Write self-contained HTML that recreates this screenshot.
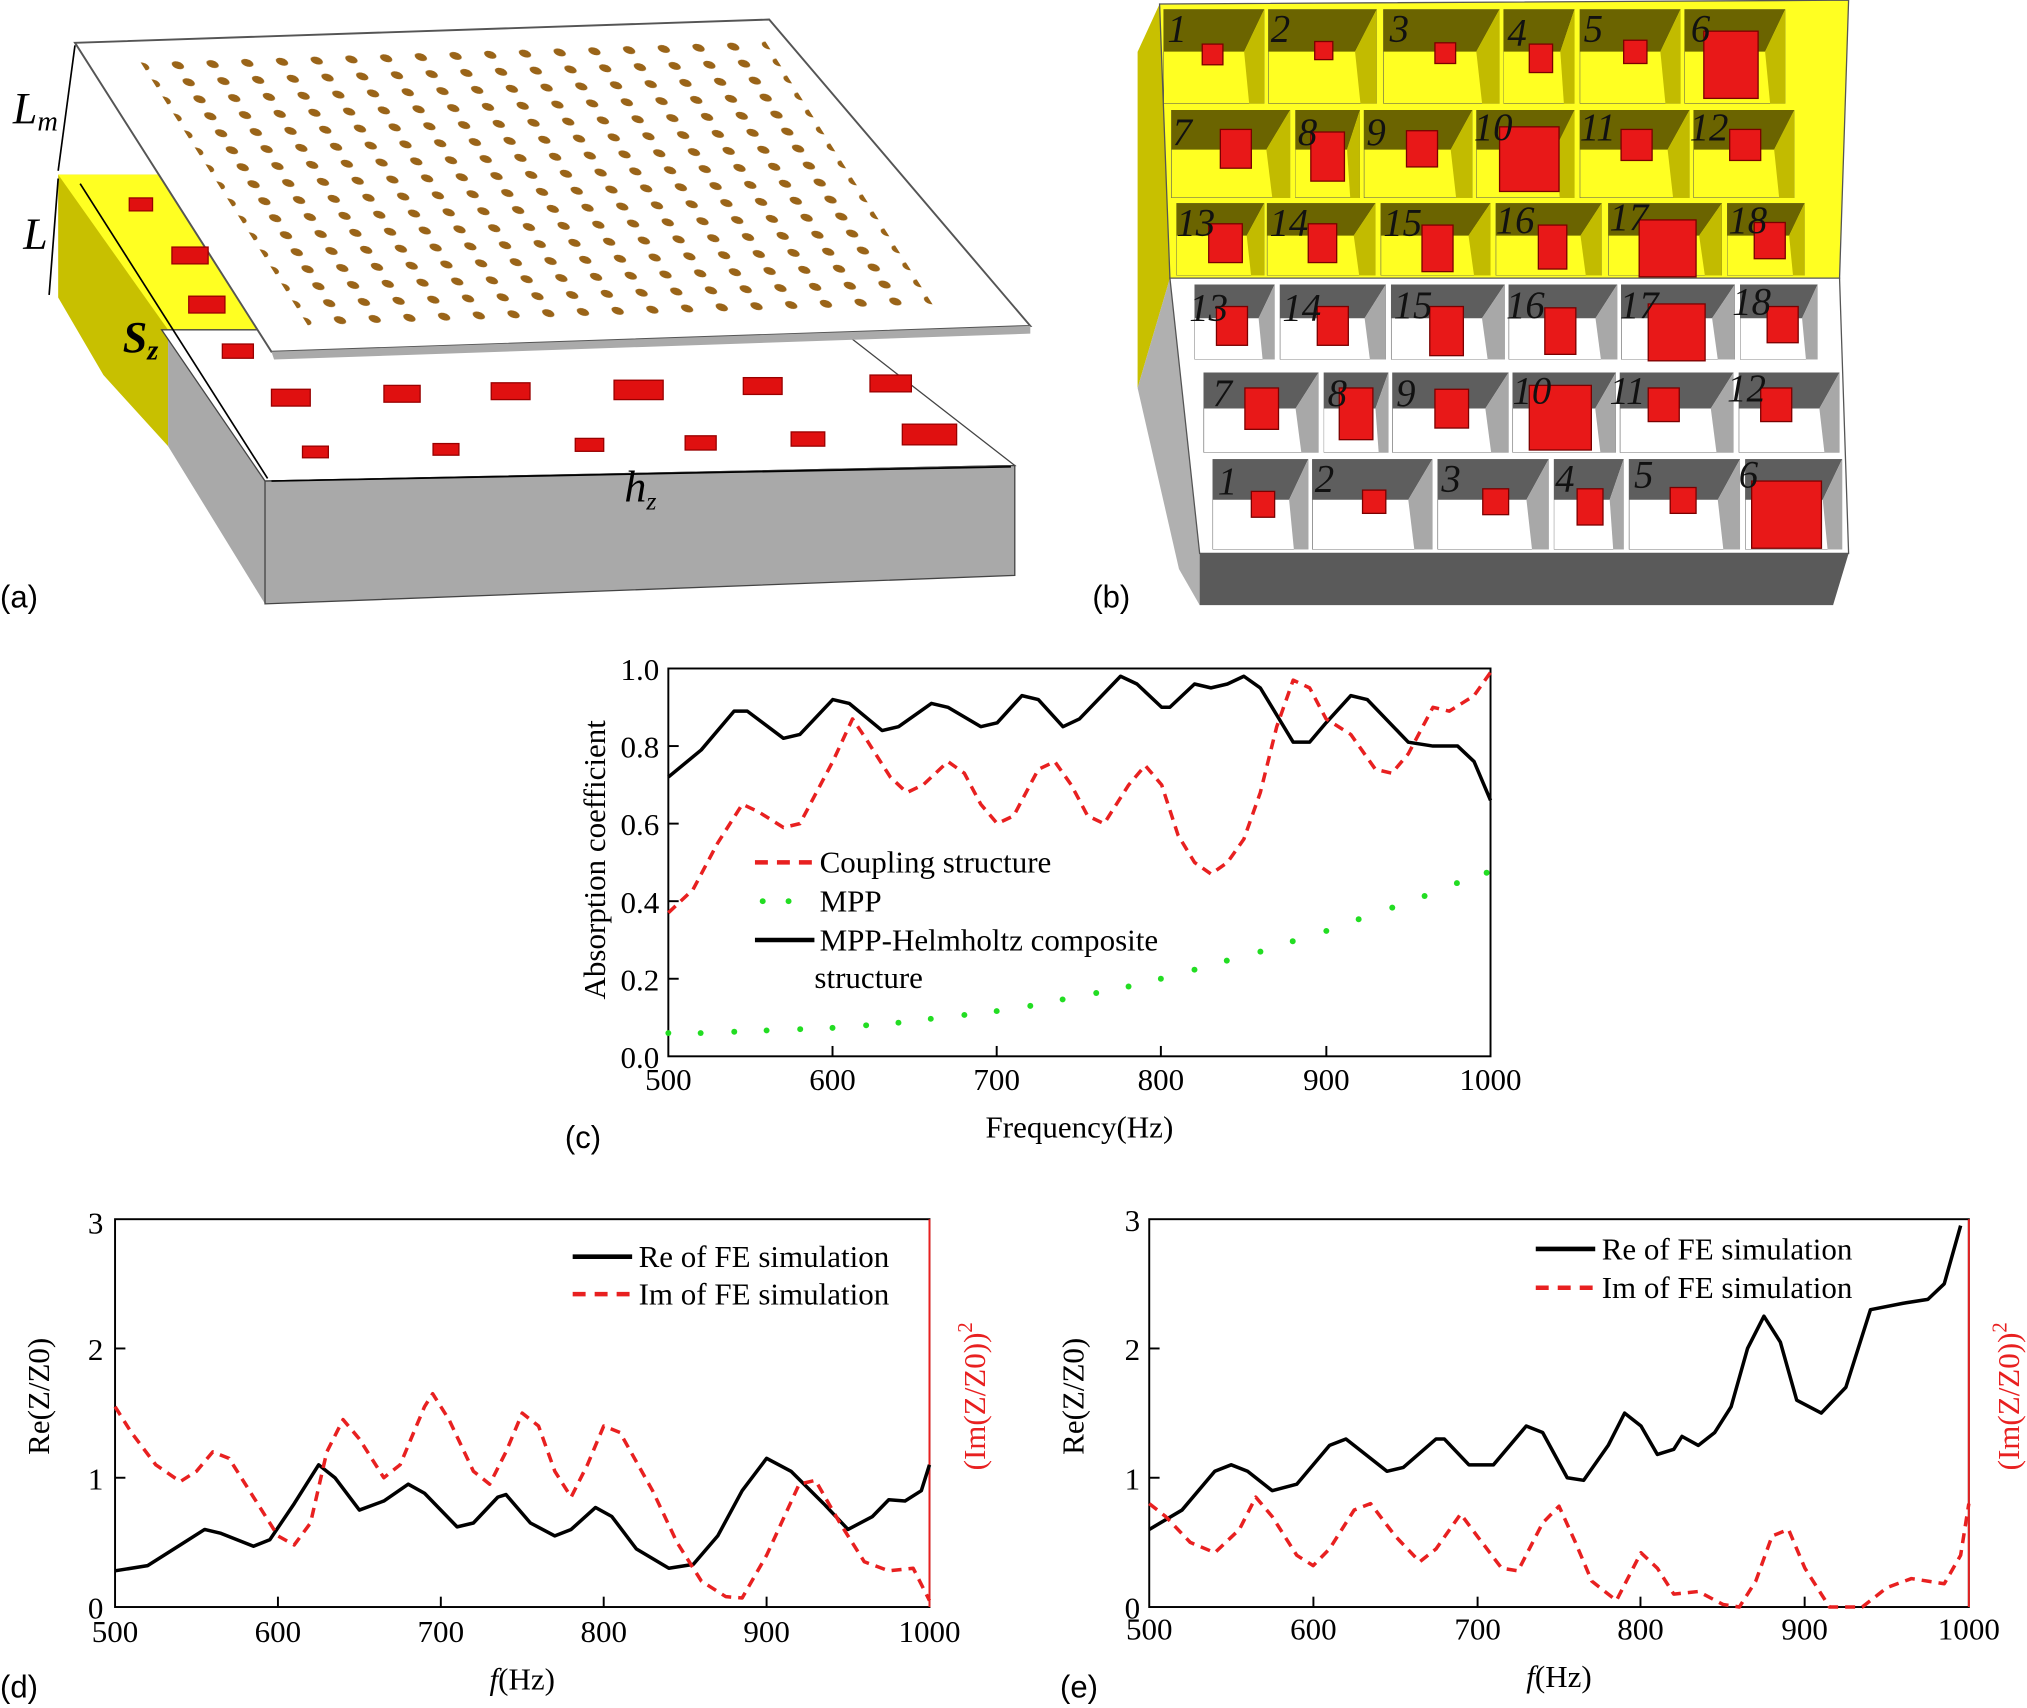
<!DOCTYPE html>
<html><head><meta charset="utf-8"><style>html,body{margin:0;padding:0;background:#fff}svg{display:block}</style></head>
<body>
<svg width="2027" height="1708" viewBox="0 0 1568 1321" xmlns="http://www.w3.org/2000/svg" font-family="Liberation Serif, serif">
<defs>
<symbol id="yc" viewBox="0 0 100 100" preserveAspectRatio="none">
<rect x="0" y="0" width="100" height="100" fill="#ffff22" stroke="#555" stroke-width="1"/>
<polygon points="0,0 100,0 80,45 0,45" fill="#6b6400"/>
<polygon points="80,45 100,0 100,100 85,100" fill="#c2bb00"/>
</symbol>
<symbol id="gc" viewBox="0 0 100 100" preserveAspectRatio="none">
<rect x="0" y="0" width="100" height="100" fill="#fff" stroke="#555" stroke-width="1"/>
<polygon points="0,0 100,0 80,45 0,45" fill="#5e5e5e"/>
<polygon points="80,45 100,0 100,100 85,100" fill="#a8a8a8"/>
</symbol>
<pattern id="dots" x="0" y="0" width="50" height="55" patternUnits="userSpaceOnUse"><ellipse cx="25" cy="27" rx="8" ry="13" fill="#9a6418"/></pattern>
</defs>

<!-- Panel (a) -->
<polygon points="45,135 130,135 130,345 80,290 45,230" fill="#c8c000"/>
<polygon points="45,135 130,135 205,255 130,255" fill="#ffff22"/>
<polygon points="130,255 205,255 205,467 130,345" fill="#a9a9a9"/>
<polygon points="125,255 650,255 785,360 205,372" fill="#fff" stroke="#444" stroke-width="1"/>
<polygon points="205,372 785,360 785,445 205,467" fill="#a9a9a9" stroke="#444" stroke-width="1"/>
<polygon points="58,33 595,15 797,252 210,272" fill="#fff" stroke="#555" stroke-width="1.5"/>
<polygon points="210,272 797,252 797,258 212,278" fill="#aaa"/>
<g transform="matrix(0.537,-0.018,0.152,0.239,58,33)"><rect x="75" y="55" width="900" height="880" fill="url(#dots)"/></g>
<g fill="#e01010" stroke="#900" stroke-width="1">
<rect x="100" y="153" width="18" height="10"/><rect x="133" y="191" width="28" height="13"/><rect x="146" y="229" width="28" height="13"/>
<rect x="172" y="266" width="24" height="11"/>
<rect x="210" y="301" width="30" height="13"/><rect x="297" y="298" width="28" height="13"/><rect x="380" y="296" width="30" height="13"/><rect x="475" y="294" width="38" height="15"/><rect x="575" y="292" width="30" height="13"/><rect x="673" y="290" width="32" height="13"/>
<rect x="234" y="345" width="20" height="9"/><rect x="335" y="343" width="20" height="9"/><rect x="445" y="339" width="22" height="10"/><rect x="530" y="337" width="24" height="11"/><rect x="612" y="334" width="26" height="11"/><rect x="698" y="328" width="42" height="16"/>
</g>
<g stroke="#000" stroke-width="1.3" fill="none">
<line x1="58" y1="35" x2="45" y2="132"/><line x1="45" y1="138" x2="38" y2="228"/><line x1="62" y1="142" x2="207" y2="370"/><line x1="210" y1="372" x2="782" y2="361"/>
</g>
<g font-style="italic" font-size="34"><text x="10" y="95">L<tspan font-size="22" dy="6">m</tspan></text><text x="18" y="192">L</text><text x="95" y="272" font-weight="bold">S<tspan font-size="22" dy="6">z</tspan></text><text x="483" y="388">h<tspan font-size="20" dy="6">z</tspan></text></g>
<text x="0" y="470" font-family="Liberation Sans, sans-serif" font-size="24">(a)</text>

<!-- Panel (b) -->
<polygon points="880,40 897,3 905,215 880,300" fill="#c8c000"/>
<polygon points="880,300 905,215 928,428 928,468 912,440" fill="#b0b0b0"/>
<polygon points="897,3 1430,0 1423,215 905,215" fill="#ffff22" stroke="#555"/>
<polygon points="905,215 1423,215 1430,428 928,428" fill="#fff" stroke="#555"/>
<polygon points="928,428 1430,428 1418,468 928,468" fill="#5a5a5a"/>
<g>
<use href="#yc" x="900" y="7" width="78" height="73"/><use href="#yc" x="981" y="7" width="84" height="73"/><use href="#yc" x="1070" y="7" width="90" height="73"/><use href="#yc" x="1163" y="7" width="55" height="73"/><use href="#yc" x="1222" y="7" width="78" height="73"/><use href="#yc" x="1303" y="7" width="78" height="73"/>
<use href="#yc" x="906" y="85" width="92" height="68"/><use href="#yc" x="1002" y="85" width="50" height="68"/><use href="#yc" x="1055" y="85" width="84" height="68"/><use href="#yc" x="1142" y="85" width="76" height="68"/><use href="#yc" x="1222" y="85" width="85" height="68"/><use href="#yc" x="1310" y="85" width="78" height="68"/>
<use href="#yc" x="910" y="157" width="68" height="56"/><use href="#yc" x="980" y="157" width="84" height="56"/><use href="#yc" x="1068" y="157" width="85" height="56"/><use href="#yc" x="1157" y="157" width="82" height="56"/><use href="#yc" x="1244" y="157" width="88" height="56"/><use href="#yc" x="1336" y="157" width="60" height="56"/>
<use href="#gc" x="924" y="220" width="62" height="58"/><use href="#gc" x="990" y="220" width="82" height="58"/><use href="#gc" x="1076" y="220" width="88" height="58"/><use href="#gc" x="1167" y="220" width="84" height="58"/><use href="#gc" x="1254" y="220" width="88" height="58"/><use href="#gc" x="1346" y="220" width="60" height="58"/>
<use href="#gc" x="931" y="288" width="89" height="62"/><use href="#gc" x="1024" y="288" width="50" height="62"/><use href="#gc" x="1077" y="288" width="90" height="62"/><use href="#gc" x="1170" y="288" width="80" height="62"/><use href="#gc" x="1253" y="288" width="88" height="62"/><use href="#gc" x="1345" y="288" width="78" height="62"/>
<use href="#gc" x="938" y="355" width="74" height="70"/><use href="#gc" x="1015" y="355" width="93" height="70"/><use href="#gc" x="1112" y="355" width="86" height="70"/><use href="#gc" x="1202" y="355" width="54" height="70"/><use href="#gc" x="1260" y="355" width="86" height="70"/><use href="#gc" x="1350" y="355" width="75" height="70"/>
</g>
<g fill="#e81818" stroke="#7a0000" stroke-width="1">
<rect x="930" y="34" width="16" height="16"/><rect x="1017" y="32" width="14" height="14"/><rect x="1110" y="33" width="16" height="16"/><rect x="1183" y="34" width="18" height="22"/><rect x="1256" y="31" width="18" height="18"/><rect x="1318" y="24" width="42" height="52"/>
<rect x="944" y="100" width="24" height="30"/><rect x="1014" y="102" width="26" height="38"/><rect x="1088" y="101" width="24" height="28"/><rect x="1160" y="98" width="46" height="50"/><rect x="1254" y="100" width="24" height="24"/><rect x="1338" y="100" width="24" height="24"/>
<rect x="935" y="173" width="26" height="30"/><rect x="1012" y="173" width="22" height="30"/><rect x="1100" y="174" width="24" height="36"/><rect x="1190" y="174" width="22" height="34"/><rect x="1268" y="170" width="44" height="44"/><rect x="1357" y="172" width="24" height="28"/>
<rect x="941" y="237" width="24" height="30"/><rect x="1019" y="237" width="24" height="30"/><rect x="1106" y="237" width="26" height="38"/><rect x="1195" y="238" width="24" height="36"/><rect x="1275" y="235" width="44" height="44"/><rect x="1367" y="237" width="24" height="28"/>
<rect x="963" y="300" width="26" height="32"/><rect x="1036" y="300" width="26" height="40"/><rect x="1110" y="301" width="26" height="30"/><rect x="1183" y="298" width="48" height="50"/><rect x="1275" y="300" width="24" height="26"/><rect x="1362" y="300" width="24" height="26"/>
<rect x="968" y="380" width="18" height="20"/><rect x="1054" y="379" width="18" height="18"/><rect x="1147" y="378" width="20" height="20"/><rect x="1220" y="378" width="20" height="28"/><rect x="1292" y="377" width="20" height="20"/><rect x="1355" y="372" width="54" height="52"/>
</g>
<g font-style="italic" font-size="30" fill="#111">
<text x="903" y="32">1</text><text x="983" y="32">2</text><text x="1075" y="32">3</text><text x="1166" y="35">4</text><text x="1225" y="32">5</text><text x="1308" y="32">6</text>
<text x="907" y="112">7</text><text x="1004" y="112">8</text><text x="1057" y="112">9</text><text x="1140" y="108">10</text><text x="1222" y="108">11</text><text x="1307" y="108">12</text>
<text x="910" y="182">13</text><text x="982" y="182">14</text><text x="1070" y="182">15</text><text x="1157" y="180">16</text><text x="1245" y="178">17</text><text x="1337" y="180">18</text>
<text x="920" y="248">13</text><text x="992" y="248">14</text><text x="1078" y="246">15</text><text x="1165" y="246">16</text><text x="1253" y="246">17</text><text x="1340" y="243">18</text>
<text x="938" y="314">7</text><text x="1027" y="314">8</text><text x="1080" y="314">9</text><text x="1170" y="312">10</text><text x="1245" y="312">11</text><text x="1336" y="310">12</text>
<text x="942" y="382">1</text><text x="1017" y="380">2</text><text x="1115" y="380">3</text><text x="1203" y="380">4</text><text x="1264" y="377">5</text><text x="1345" y="377">6</text>
</g>
<text x="845" y="470" font-family="Liberation Sans, sans-serif" font-size="24">(b)</text>

<!-- Panel (c) -->
<rect x="517" y="517" width="636" height="300" fill="none" stroke="#000" stroke-width="1.5"/>
<g stroke="#000" stroke-width="1.5">
<line x1="644" y1="817" x2="644" y2="809"/><line x1="771" y1="817" x2="771" y2="809"/><line x1="898" y1="817" x2="898" y2="809"/><line x1="1026" y1="817" x2="1026" y2="809"/>
<line x1="517" y1="757" x2="525" y2="757"/><line x1="517" y1="697" x2="525" y2="697"/><line x1="517" y1="637" x2="525" y2="637"/><line x1="517" y1="577" x2="525" y2="577"/>
</g>
<g font-size="24" text-anchor="middle"><text x="517" y="843">500</text><text x="644" y="843">600</text><text x="771" y="843">700</text><text x="898" y="843">800</text><text x="1026" y="843">900</text><text x="1153" y="843">1000</text></g>
<g font-size="24" text-anchor="end"><text x="510" y="826">0.0</text><text x="510" y="766">0.2</text><text x="510" y="706">0.4</text><text x="510" y="646">0.6</text><text x="510" y="586">0.8</text><text x="510" y="526">1.0</text></g>
<text x="835" y="880" font-size="24" text-anchor="middle">Frequency(Hz)</text>
<text transform="translate(468,665) rotate(-90)" font-size="24" text-anchor="middle">Absorption coefficient</text>
<text x="437" y="888" font-family="Liberation Sans, sans-serif" font-size="24">(c)</text>
<g transform="translate(517,817) scale(1.272,-300) translate(-500,0)" fill="none">
<polyline vector-effect="non-scaling-stroke" stroke="#000" stroke-width="3.5" stroke-linejoin="round" points="500,.72 520,.79 540,.89 548,.89 570,.82 580,.83 600,.92 610,.91 630,.84 640,.85 660,.91 670,.90 690,.85 700,.86 715,.93 725,.92 740,.85 750,.87 775,.98 785,.96 800,.90 805,.90 820,.96 830,.95 840,.96 850,.98 860,.95 880,.81 890,.81 900,.86 915,.93 925,.92 950,.81 965,.80 980,.80 990,.76 1000,.66"/>
<polyline vector-effect="non-scaling-stroke" stroke="#e82020" stroke-width="3.5" stroke-dasharray="10,7" stroke-linejoin="round" points="500,.37 515,.43 530,.55 545,.65 555,.63 570,.59 580,.60 600,.76 612,.87 620,.82 635,.72 645,.68 655,.70 670,.76 680,.73 690,.65 700,.60 710,.62 725,.74 735,.76 745,.70 755,.62 765,.60 780,.70 790,.75 800,.70 810,.57 820,.50 830,.47 840,.50 850,.56 860,.68 870,.85 880,.97 890,.95 900,.87 915,.83 930,.74 940,.73 950,.78 960,.86 965,.90 975,.89 990,.93 1000,.99"/>
</g>
<g fill="#22dd22">
<circle cx="517" cy="799" r="2.3"/><circle cx="542" cy="799" r="2.3"/><circle cx="568" cy="798" r="2.3"/><circle cx="593" cy="797" r="2.3"/><circle cx="619" cy="796" r="2.3"/><circle cx="644" cy="795" r="2.3"/><circle cx="670" cy="793" r="2.3"/><circle cx="695" cy="791" r="2.3"/><circle cx="720" cy="788" r="2.3"/><circle cx="746" cy="785" r="2.3"/><circle cx="771" cy="782" r="2.3"/><circle cx="797" cy="778" r="2.3"/><circle cx="822" cy="773" r="2.3"/><circle cx="848" cy="768" r="2.3"/><circle cx="873" cy="763" r="2.3"/><circle cx="898" cy="757" r="2.3"/><circle cx="924" cy="750" r="2.3"/><circle cx="949" cy="743" r="2.3"/><circle cx="975" cy="736" r="2.3"/><circle cx="1000" cy="728" r="2.3"/><circle cx="1026" cy="720" r="2.3"/><circle cx="1051" cy="711" r="2.3"/><circle cx="1077" cy="702" r="2.3"/><circle cx="1102" cy="693" r="2.3"/><circle cx="1127" cy="683" r="2.3"/><circle cx="1150" cy="675" r="2.3"/>
<circle cx="590" cy="697" r="2.3"/><circle cx="610" cy="697" r="2.3"/>
</g>
<line x1="584" y1="667" x2="630" y2="667" stroke="#e82020" stroke-width="3.5" stroke-dasharray="10,7"/>
<line x1="584" y1="727" x2="630" y2="727" stroke="#000" stroke-width="3.5"/>
<g font-size="24"><text x="634" y="675">Coupling structure</text><text x="634" y="705">MPP</text><text x="634" y="735">MPP-Helmholtz composite</text><text x="630" y="764">structure</text></g>

<!-- Panel (d) -->
<rect x="89" y="943" width="630" height="300" fill="none" stroke="#000" stroke-width="1.5"/>
<line x1="719" y1="943" x2="719" y2="1243" stroke="#e82020" stroke-width="1.5"/>
<g stroke="#000" stroke-width="1.5"><line x1="215" y1="1243" x2="215" y2="1235"/><line x1="341" y1="1243" x2="341" y2="1235"/><line x1="467" y1="1243" x2="467" y2="1235"/><line x1="593" y1="1243" x2="593" y2="1235"/><line x1="89" y1="1143" x2="97" y2="1143"/><line x1="89" y1="1043" x2="97" y2="1043"/></g>
<g font-size="24" text-anchor="middle"><text x="89" y="1270">500</text><text x="215" y="1270">600</text><text x="341" y="1270">700</text><text x="467" y="1270">800</text><text x="593" y="1270">900</text><text x="719" y="1270">1000</text></g>
<g font-size="24" text-anchor="end"><text x="80" y="1252">0</text><text x="80" y="1152">1</text><text x="80" y="1052">2</text><text x="80" y="954">3</text></g>
<text x="404" y="1307" font-size="24" text-anchor="middle"><tspan font-style="italic">f</tspan>(Hz)</text>
<text transform="translate(38,1080) rotate(-90)" font-size="24" text-anchor="middle">Re(Z/Z0)</text>
<text transform="translate(762,1080) rotate(-90)" font-size="24" text-anchor="middle" fill="#e82020">(Im(Z/Z0))<tspan font-size="16" dy="-10">2</tspan></text>
<text x="0" y="1313" font-family="Liberation Sans, sans-serif" font-size="24">(d)</text>
<g transform="translate(89,1243) scale(1.26,-100) translate(-500,0)" fill="none">
<polyline vector-effect="non-scaling-stroke" stroke="#000" stroke-width="3.5" stroke-linejoin="round" points="500,.28 520,.32 540,.48 555,.6 565,.57 585,.47 595,.52 610,.8 625,1.1 635,1.0 650,.75 665,.82 680,.95 690,.88 710,.62 720,.65 735,.85 740,.87 755,.65 770,.55 780,.6 795,.77 805,.7 820,.45 840,.3 855,.33 870,.55 885,.9 900,1.15 915,1.05 935,.8 950,.6 965,.7 975,.83 985,.82 995,.9 1000,1.1"/>
<polyline vector-effect="non-scaling-stroke" stroke="#e82020" stroke-width="3.5" stroke-dasharray="10,7" stroke-linejoin="round" points="500,1.55 510,1.35 525,1.1 540,.97 550,1.05 560,1.2 570,1.15 585,.85 600,.55 610,.48 620,.65 630,1.2 640,1.45 650,1.3 665,1.0 675,1.1 690,1.55 695,1.65 705,1.45 720,1.05 730,.95 740,1.2 750,1.5 760,1.4 770,1.05 780,.85 790,1.1 800,1.4 810,1.35 830,.9 845,.5 860,.2 875,.08 885,.07 900,.4 920,.95 930,.98 945,.65 960,.35 975,.28 990,.3 1000,.05"/>
</g>
<line x1="443" y1="972" x2="489" y2="972" stroke="#000" stroke-width="3.5"/>
<line x1="443" y1="1001" x2="489" y2="1001" stroke="#e82020" stroke-width="3.5" stroke-dasharray="10,7"/>
<g font-size="24"><text x="494" y="980">Re of FE simulation</text><text x="494" y="1009">Im of FE simulation</text></g>

<!-- Panel (e) -->
<rect x="889" y="943" width="634" height="300" fill="none" stroke="#000" stroke-width="1.5"/>
<line x1="1523" y1="943" x2="1523" y2="1243" stroke="#e82020" stroke-width="1.5"/>
<g stroke="#000" stroke-width="1.5"><line x1="1016" y1="1243" x2="1016" y2="1235"/><line x1="1143" y1="1243" x2="1143" y2="1235"/><line x1="1269" y1="1243" x2="1269" y2="1235"/><line x1="1396" y1="1243" x2="1396" y2="1235"/><line x1="889" y1="1143" x2="897" y2="1143"/><line x1="889" y1="1043" x2="897" y2="1043"/></g>
<g font-size="24" text-anchor="middle"><text x="889" y="1268">500</text><text x="1016" y="1268">600</text><text x="1143" y="1268">700</text><text x="1269" y="1268">800</text><text x="1396" y="1268">900</text><text x="1523" y="1268">1000</text></g>
<g font-size="24" text-anchor="end"><text x="882" y="1252">0</text><text x="882" y="1152">1</text><text x="882" y="1052">2</text><text x="882" y="952">3</text></g>
<text x="1206" y="1305" font-size="24" text-anchor="middle"><tspan font-style="italic">f</tspan>(Hz)</text>
<text transform="translate(838,1080) rotate(-90)" font-size="24" text-anchor="middle">Re(Z/Z0)</text>
<text transform="translate(1562,1080) rotate(-90)" font-size="24" text-anchor="middle" fill="#e82020">(Im(Z/Z0))<tspan font-size="16" dy="-10">2</tspan></text>
<text x="820" y="1313" font-family="Liberation Sans, sans-serif" font-size="24">(e)</text>
<g transform="translate(889,1243) scale(1.268,-100) translate(-500,0)" fill="none">
<polyline vector-effect="non-scaling-stroke" stroke="#000" stroke-width="3.5" stroke-linejoin="round" points="500,.6 520,.75 540,1.05 550,1.1 560,1.05 575,.9 590,.95 610,1.25 620,1.3 630,1.2 645,1.05 655,1.08 675,1.3 680,1.3 695,1.1 710,1.1 730,1.4 740,1.35 755,1.0 765,.98 780,1.25 790,1.5 800,1.4 810,1.18 820,1.22 825,1.32 835,1.25 845,1.35 855,1.55 865,2.0 875,2.25 885,2.05 895,1.6 910,1.5 925,1.7 940,2.3 960,2.35 975,2.38 985,2.5 995,2.95"/>
<polyline vector-effect="non-scaling-stroke" stroke="#e82020" stroke-width="3.5" stroke-dasharray="10,7" stroke-linejoin="round" points="500,.8 510,.7 525,.5 540,.42 555,.6 565,.85 575,.7 590,.4 600,.32 610,.45 625,.75 635,.8 650,.55 665,.35 675,.45 690,.72 700,.55 715,.3 725,.28 740,.65 750,.78 760,.5 770,.2 785,.05 800,.42 810,.3 820,.1 835,.12 850,.02 860,0 870,.2 880,.55 890,.6 900,.3 915,0 935,0 950,.15 965,.22 985,.18 995,.4 1000,.8"/>
</g>
<line x1="1188" y1="966" x2="1234" y2="966" stroke="#000" stroke-width="3.5"/>
<line x1="1188" y1="996" x2="1234" y2="996" stroke="#e82020" stroke-width="3.5" stroke-dasharray="10,7"/>
<g font-size="24"><text x="1239" y="974">Re of FE simulation</text><text x="1239" y="1004">Im of FE simulation</text></g>
</svg>
</body></html>
